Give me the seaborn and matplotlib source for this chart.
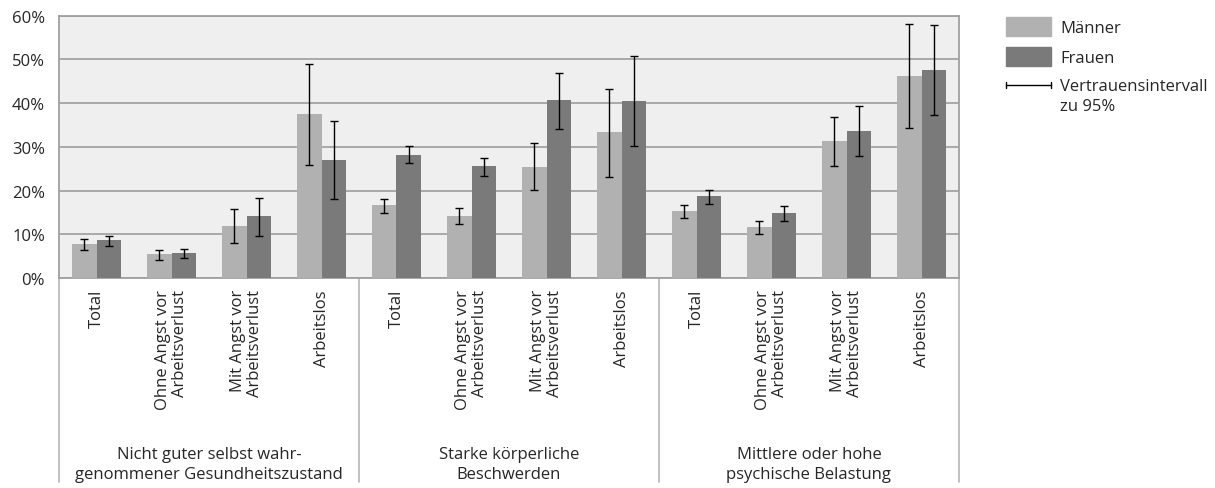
import numpy as np
import pandas as pd
import matplotlib
matplotlib.use("Agg")
import matplotlib.pyplot as plt
import matplotlib.transforms as mtransforms
from matplotlib.lines import Line2D
from matplotlib.patches import Patch
from matplotlib.legend_handler import HandlerBase
from matplotlib.ticker import FuncFormatter
import seaborn as sns

# ---- data (percent) ----
groups = [
    "Nicht guter selbst wahr-\ngenommener Gesundheitszustand",
    "Starke körperliche\nBeschwerden",
    "Mittlere oder hohe\npsychische Belastung",
]
subgroups = [
    "Total",
    "Ohne Angst vor\nArbeitsverlust",
    "Mit Angst vor\nArbeitsverlust",
    "Arbeitslos",
]
sexes = ["Männer", "Frauen"]

men = [7.7, 5.4, 11.8, 37.5, 16.6, 14.1, 25.5, 33.3, 15.3, 11.6, 31.3, 46.2]
men_lo = [6.5, 4.2, 8.0, 25.8, 14.8, 12.4, 20.1, 23.2, 13.7, 10.0, 25.6, 34.2]
men_hi = [9.0, 6.5, 15.7, 49.0, 18.0, 15.9, 30.8, 43.3, 16.8, 13.1, 36.8, 58.2]

women = [8.6, 5.7, 14.1, 26.9, 28.1, 25.6, 40.7, 40.4, 18.7, 14.8, 33.6, 47.5]
women_lo = [7.3, 4.6, 9.6, 18.0, 26.2, 23.4, 34.1, 30.2, 17.0, 13.1, 27.8, 37.2]
women_hi = [9.7, 6.7, 18.2, 35.8, 30.1, 27.5, 47.0, 50.8, 20.2, 16.5, 39.3, 57.8]

legend_ci = "Vertrauensintervall\nzu 95%"

# ---- styling ----
sns.set_style("white")
plt.rcParams["font.family"] = ["Open Sans", "DejaVu Sans"]
FS = 12
c_men = "#B1B1B1"
c_women = "#7A7A7A"
c_bg = "#EFEFEF"
c_grid = "#A3A3A3"
c_sep = "#B5B5B5"

keys = [f"{g}|{s}" for g in groups for s in subgroups]
df = pd.DataFrame({
    "key": keys * 2,
    "Geschlecht": [sexes[0]] * len(keys) + [sexes[1]] * len(keys),
    "value": men + women,
})

fig = plt.figure(figsize=(12.15, 4.89), dpi=100)
ax = fig.add_axes([59 / 1215, 1 - 279 / 489, 900 / 1215, (279 - 16.7) / 489])
ax.set_facecolor(c_bg)

sns.barplot(
    data=df, x="key", y="value", hue="Geschlecht",
    order=keys, hue_order=sexes, palette=[c_men, c_women],
    width=0.65, errorbar=None, saturation=1, linewidth=0,
    legend=False, ax=ax, zorder=3,
)

# confidence intervals
for cont, vals, lo, hi in zip(ax.containers, [men, women],
                              [men_lo, women_lo], [men_hi, women_hi]):
    xs = [b.get_x() + b.get_width() / 2 for b in cont]
    v = np.array(vals)
    yerr = [v - np.array(lo), np.array(hi) - v]
    ax.errorbar(xs, v, yerr=yerr, fmt="none", ecolor="black",
                elinewidth=1, capsize=3, capthick=1, zorder=4)

ax.set_xlim(-0.5, len(keys) - 0.5)
ax.set_ylim(0, 60)
ax.set_yticks(np.arange(0, 61, 10))
ax.yaxis.set_major_formatter(FuncFormatter(lambda v, p: f"{v:.0f}%"))
ax.grid(axis="y", color=c_grid, linewidth=1.3, zorder=1)
ax.set_axisbelow(True)
ax.set_xlabel("")
ax.set_ylabel("")

ax.set_xticks(range(len(keys)))
ax.set_xticklabels(subgroups * len(groups), rotation=90, ha="center",
                   va="top", multialignment="right", fontsize=FS,
                   linespacing=1.05)
ax.tick_params(axis="x", length=0, pad=8)
ax.tick_params(axis="y", length=0, pad=10, labelsize=FS)

for sp in ax.spines.values():
    sp.set_color("#A0A0A0")
    sp.set_linewidth(1.3)

# group separators and group labels below the axis
trans = mtransforms.blended_transform_factory(ax.transData, ax.transAxes)
y_bottom = (279 - 483) / (279 - 16.7)
for xs in [-0.5, 3.5, 7.5, 11.5]:
    ax.plot([xs, xs], [0, y_bottom], transform=trans, clip_on=False,
            color=c_sep, linewidth=1.2)
y_grp = (279 - 465) / (279 - 16.7)
for i, g in enumerate(groups):
    ax.text(i * 4 + 1.5, y_grp, g, transform=trans, ha="center",
            va="center", fontsize=FS, linespacing=1.3)


class HandlerCI(HandlerBase):
    def create_artists(self, legend, orig_handle, xdescent, ydescent,
                       width, height, fontsize, trans):
        y = height / 2 - ydescent + 0.68 * fontsize
        x0, x1 = -xdescent, width - xdescent
        cap = 0.2 * fontsize
        arts = [
            Line2D([x0, x1], [y, y], color="black", lw=1),
            Line2D([x0, x0], [y - cap, y + cap], color="black", lw=1),
            Line2D([x1, x1], [y - cap, y + cap], color="black", lw=1),
        ]
        for a in arts:
            a.set_transform(trans)
        return arts


ci_handle = Line2D([], [], color="black")
handles = [Patch(color=c_men), Patch(color=c_women), ci_handle]
labels = sexes + [legend_ci]
leg = fig.legend(handles, labels, loc="upper left",
                 bbox_to_anchor=(1006 / 1215, 1 - 17.5 / 489),
                 frameon=False, fontsize=FS, borderpad=0, borderaxespad=0,
                 handlelength=2.7, handleheight=1.4, handletextpad=0.55,
                 labelspacing=0.68,
                 handler_map={ci_handle: HandlerCI()})
for t in leg.get_texts():
    t.set_linespacing(1.35)

fig.savefig("out.png", dpi=100)
